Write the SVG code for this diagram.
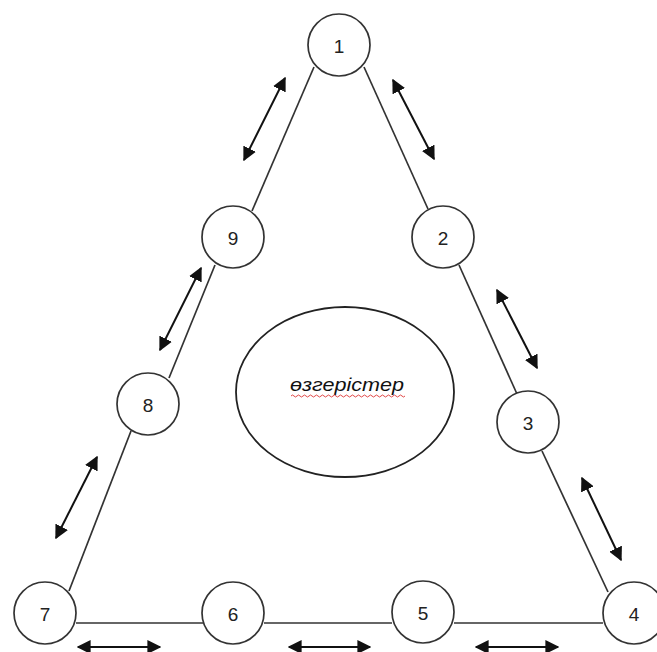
<svg xmlns="http://www.w3.org/2000/svg" width="657" height="652" viewBox="0 0 657 652">
<style>
.node circle{fill:#fff;stroke:#333;stroke-width:1.7}
.node text{font-family:"Liberation Sans",Arial,sans-serif;font-size:19px;fill:#222;text-anchor:middle;dominant-baseline:central}
.edge{stroke:#333;stroke-width:1.7;fill:none}
.arr{stroke:#111;stroke-width:2;fill:none;marker-start:url(#ah);marker-end:url(#ah)}
</style>
<defs>
<marker id="ah" viewBox="0 0 10 10" refX="9" refY="5" markerWidth="7" markerHeight="7" orient="auto-start-reverse" markerUnits="strokeWidth">
<path d="M0,0 L10,5 L0,10 Z" fill="#111"/>
</marker>
</defs>
<rect width="657" height="652" fill="#fff"/>
<g id="connectors">
<line class="edge" x1="314" y1="67" x2="252" y2="211"/>
<line class="edge" x1="364" y1="67" x2="428" y2="209"/>
<line class="edge" x1="215" y1="265" x2="169" y2="378"/>
<line class="edge" x1="459" y1="265" x2="517" y2="394"/>
<line class="edge" x1="131" y1="431" x2="69" y2="591"/>
<line class="edge" x1="542" y1="451" x2="608" y2="592"/>
<line class="edge" x1="76" y1="623" x2="203" y2="623"/>
<line class="edge" x1="264" y1="623" x2="392" y2="623"/>
<line class="edge" x1="454" y1="623" x2="603" y2="623"/>
<line class="arr" x1="285" y1="78" x2="244" y2="160"/>
<line class="arr" x1="393" y1="80" x2="434" y2="159"/>
<line class="arr" x1="201" y1="268" x2="160" y2="350"/>
<line class="arr" x1="497" y1="290" x2="537" y2="368"/>
<line class="arr" x1="97" y1="457" x2="56" y2="538"/>
<line class="arr" x1="582" y1="478" x2="621" y2="560"/>
<line class="arr" x1="78" y1="647" x2="160" y2="647"/>
<line class="arr" x1="289" y1="647" x2="370" y2="647"/>
<line class="arr" x1="476" y1="647" x2="558" y2="647"/>
</g>
<g id="n1" class="node"><circle cx="339" cy="45" r="31"/><text x="339" y="46">1</text></g>
<g id="n2" class="node"><circle cx="443" cy="237" r="31"/><text x="443" y="238">2</text></g>
<g id="n3" class="node"><circle cx="528" cy="422" r="31"/><text x="528" y="423">3</text></g>
<g id="n4" class="node"><circle cx="634" cy="613" r="31"/><text x="634" y="614">4</text></g>
<g id="n5" class="node"><circle cx="423" cy="612" r="31"/><text x="423" y="613">5</text></g>
<g id="n6" class="node"><circle cx="233" cy="613" r="31"/><text x="233" y="614">6</text></g>
<g id="n7" class="node"><circle cx="45" cy="613" r="31"/><text x="45" y="614">7</text></g>
<g id="n8" class="node"><circle cx="148" cy="404" r="31"/><text x="148" y="405">8</text></g>
<g id="n9" class="node"><circle cx="233" cy="237" r="31"/><text x="233" y="238">9</text></g>
<g id="center">
<ellipse cx="345" cy="392" rx="109" ry="85" fill="#fff" stroke="#222" stroke-width="1.8"/>
<text x="347" y="391" font-family="'Liberation Sans',Arial,sans-serif" font-size="19" font-style="italic" fill="#111" text-anchor="middle" textLength="114" lengthAdjust="spacingAndGlyphs">өзгерістер</text>
<path d="M291,396 q1.5,-2 3,0 t3,0 t3,0 t3,0 t3,0 t3,0 t3,0 t3,0 t3,0 t3,0 t3,0 t3,0 t3,0 t3,0 t3,0 t3,0 t3,0 t3,0 t3,0 t3,0 t3,0 t3,0 t3,0 t3,0 t3,0 t3,0 t3,0 t3,0 t3,0 t3,0 t3,0 t3,0 t3,0 t3,0 t3,0 t3,0 t3,0 t3,0" fill="none" stroke="#d33" stroke-width="0.9"/>
</g>
</svg>
